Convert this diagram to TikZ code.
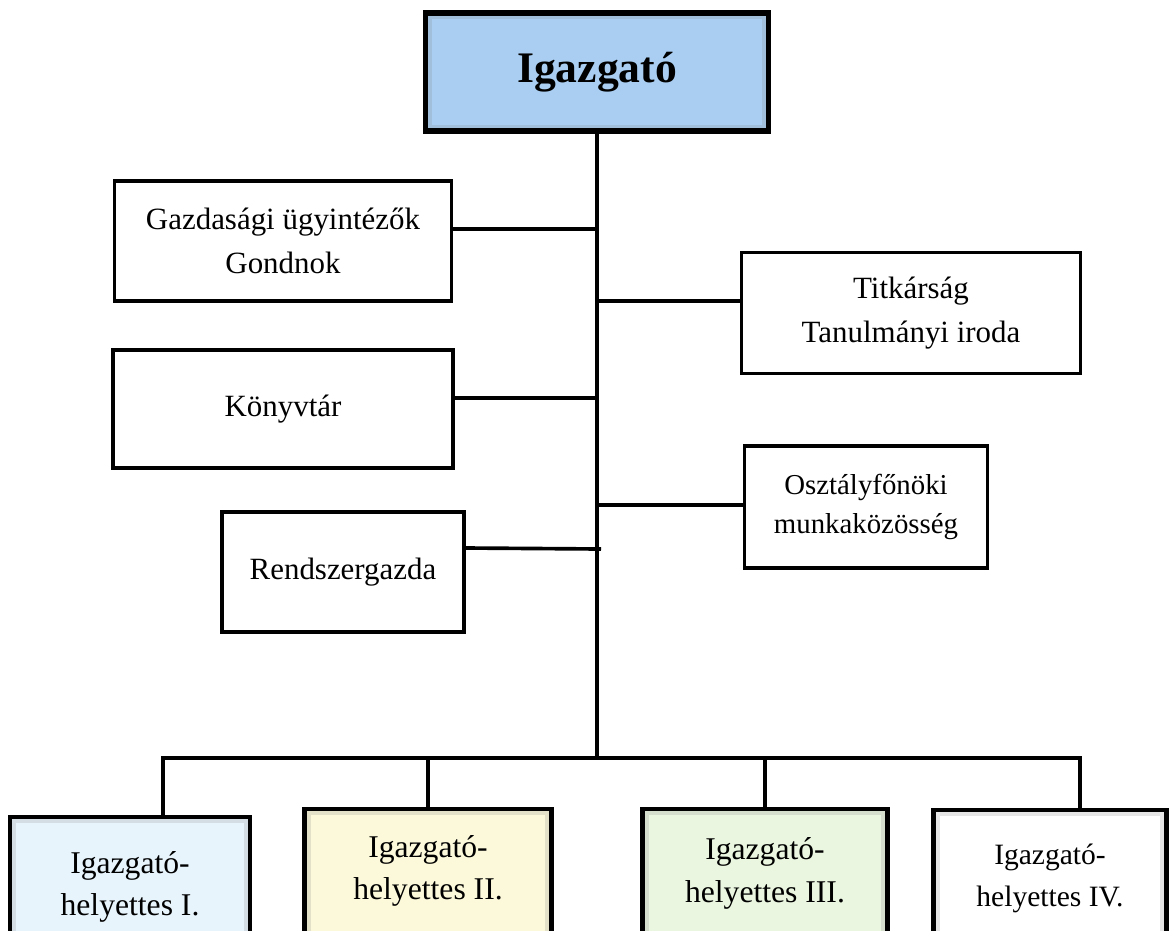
\documentclass[tikz,border=0pt]{standalone}
\usepackage{fontspec}
\setmainfont{Liberation Serif}
\usetikzlibrary{shadows}

\newlength\unitpx
\setlength\unitpx{0.025cm}

\definecolor{bossblue}{RGB}{169,206,242}
\definecolor{depblue}{RGB}{232,244,252}
\definecolor{depyellow}{RGB}{252,249,218}
\definecolor{depgreen}{RGB}{234,246,223}

\tikzset{
  wire/.style={line width=2.6pt},
  unitbox/.style={draw, line width=2.8pt, fill=white, align=center, inner sep=0pt,
    font=\fontsize{22}{31}\selectfont},
  bevel/.style={path picture={
    \draw[#1!80!gray, line width=9pt]
      (path picture bounding box.south west) rectangle (path picture bounding box.north east);}},
  bossbox/.style={draw, line width=4pt, fill=bossblue, bevel=bossblue, align=center,
    drop shadow={shadow xshift=1.5pt, shadow yshift=-1.5pt, opacity=0.45},
    font=\fontsize{31}{36}\selectfont\bfseries,
    minimum width=343\unitpx, minimum height=118\unitpx},
  deputy/.style={draw, line width=3pt, fill=#1, bevel=#1, align=center, anchor=north,
    drop shadow={shadow xshift=1.5pt, shadow yshift=-1.5pt, opacity=0.45},
    font=\fontsize{22.5}{30}\selectfont, minimum height=140\unitpx}
}

\newcommand{\lift}[1]{\rule[-#1]{0pt}{0pt}}

\begin{document}
\begin{tikzpicture}[x=0.025cm, y=-0.025cm]
  \useasboundingbox (0,0) rectangle (1170,930);
  \clip (0,0) rectangle (1170,930);

  % top
  \node[bossbox] (boss) at (597,72) {Igazgató};

  % staff boxes
  \node[unitbox, minimum width=337\unitpx, minimum height=120\unitpx] (gazd) at (283,241)
    {Gazdasági ügyintézők\\Gondnok};
  \node[unitbox, minimum width=339\unitpx, minimum height=121\unitpx] (titk) at (911,313)
    {Titkárság\\Tanulmányi iroda};
  \node[unitbox, minimum width=340\unitpx, minimum height=118\unitpx] (konyv) at (283,409)
    {Könyvtár};
  \node[unitbox, minimum width=243\unitpx, minimum height=122\unitpx,
    font=\fontsize{20.5}{28}\selectfont] (oszt) at (866,507)
    {Osztályfőnöki\\munkaközösség};
  \node[unitbox, minimum width=242\unitpx, minimum height=120\unitpx] (rend) at (343,572)
    {Rendszergazda};

  % deputies
  \node[deputy=depblue, minimum width=240\unitpx] (dep1) at (130,815)
    {Igazgató-\\helyettes I.\lift{4pt}};
  \node[deputy=depyellow, minimum width=247\unitpx] (dep2) at (428,807)
    {Igazgató-\\helyettes II.\lift{17pt}};
  \node[deputy=depgreen, minimum width=245\unitpx] (dep3) at (765,807)
    {Igazgató-\\helyettes III.\lift{13pt}};
  \node[deputy=white, minimum width=233\unitpx, font=\fontsize{21}{30}\selectfont] (dep4) at (1050,808)
    {Igazgató-\\helyettes IV.\lift{7pt}};

  % trunk and joints
  \coordinate (hub) at (597,758);
  \coordinate (jgazd) at (597,229);
  \coordinate (jtitk) at (597,301);
  \coordinate (jkonyv) at (597,398);
  \coordinate (joszt) at (597,505);
  \coordinate (jrend) at (601,549);
  \coordinate (srend) at (464,548);
  \coordinate (bus1) at (163,758);
  \coordinate (bus2) at (428,758);
  \coordinate (bus3) at (765,758);
  \coordinate (bus4) at (1080,758);

  \draw[wire] (boss.south) -- (hub);
  \draw[wire] (gazd.east |- jgazd) -- (jgazd);
  \draw[wire] (titk.west |- jtitk) -- (jtitk);
  \draw[wire] (konyv.east |- jkonyv) -- (jkonyv);
  \draw[wire] (oszt.west |- joszt) -- (joszt);
  \draw[wire] (rend.east |- srend) -- (jrend);

  \draw[wire] (bus1 |- dep1.north) -- (bus1) -- (bus4) -- (bus4 |- dep4.north);
  \draw[wire] (bus2) -- (dep2.north);
  \draw[wire] (bus3) -- (dep3.north);
\end{tikzpicture}
\end{document}
